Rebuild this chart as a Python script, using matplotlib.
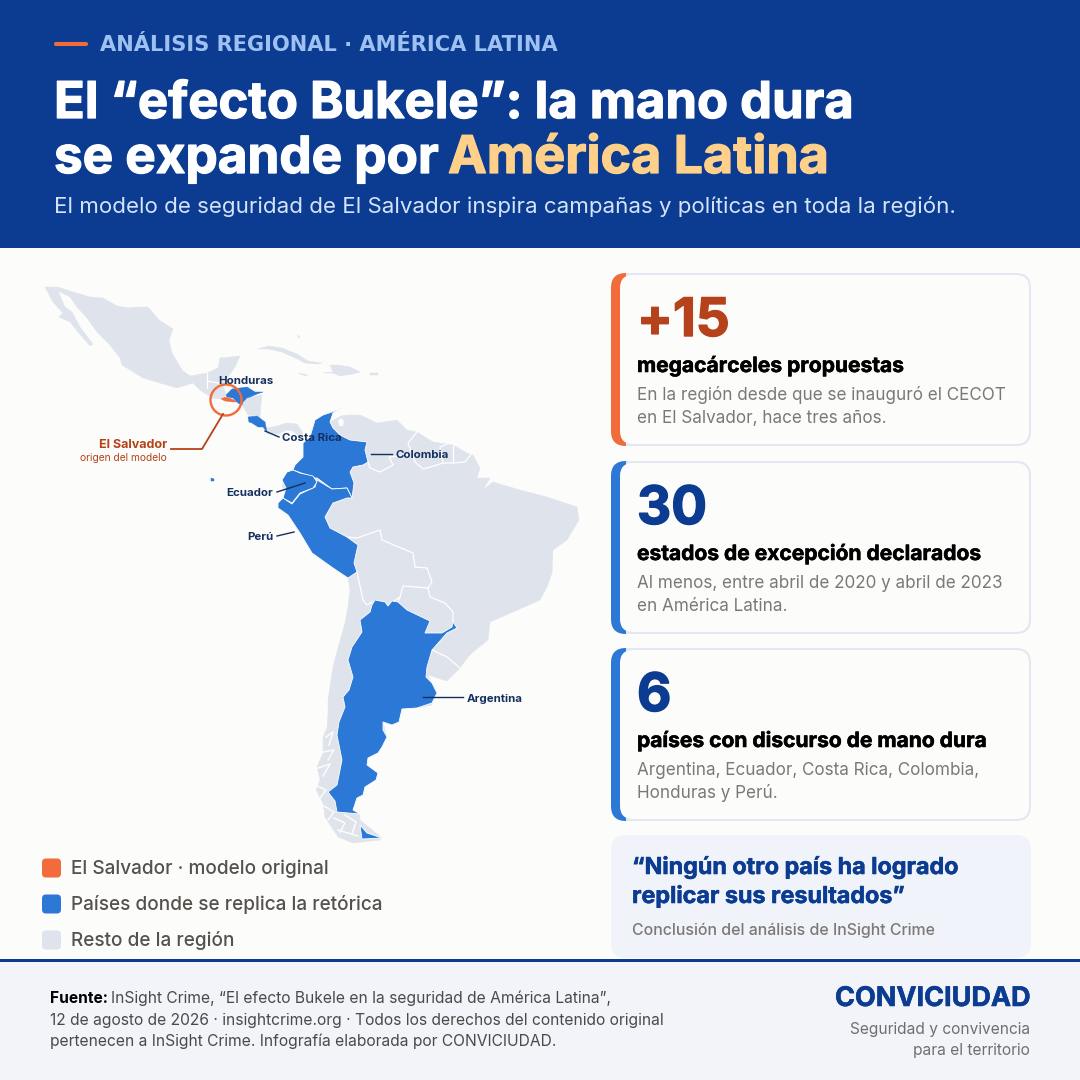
# infografia "efecto Bukele": everything drawn in pixel space of a 1080x1080 canvas
import matplotlib
matplotlib.use("Agg")
import matplotlib.pyplot as plt
import matplotlib.patheffects as pe
from matplotlib.patches import FancyBboxPatch, Polygon, Rectangle, Circle

plt.rcParams["font.family"] = ["Inter", "DejaVu Sans"]

NAVY = "#0B3C91"
BG = "#FCFCFA"
ORANGE = "#F26B3A"
RUST = "#B5421A"
BLUE = "#2B78D6"
LAND = "#DFE3EB"
INK_LABEL = "#14305F"

KICKER = "ANÁLISIS REGIONAL · AMÉRICA LATINA"
TITLE_1 = "El “efecto Bukele”: la mano dura"
TITLE_2A = "se expande por"
TITLE_2B = "América Latina"
SUBTITLE = "El modelo de seguridad de El Salvador inspira campañas y políticas en toda la región."

STAT_VALUES = ["+15", "30", "6"]
STAT_HEADS = ["megacárceles propuestas", "estados de excepción declarados", "países con discurso de mano dura"]
STAT_BODIES = [
    ["En la región desde que se inauguró el CECOT", "en El Salvador, hace tres años."],
    ["Al menos, entre abril de 2020 y abril de 2023", "en América Latina."],
    ["Argentina, Ecuador, Costa Rica, Colombia,", "Honduras y Perú."],
]
LEGEND_LABELS = ["El Salvador · modelo original", "Países donde se replica la retórica", "Resto de la región"]
QUOTE = ["“Ningún otro país ha logrado", "replicar sus resultados”"]
QUOTE_SRC = "Conclusión del análisis de InSight Crime"
FOOT_BOLD = "Fuente:"
FOOT = ["InSight Crime, “El efecto Bukele en la seguridad de América Latina”,",
        "12 de agosto de 2026 · insightcrime.org · Todos los derechos del contenido original",
        "pertenecen a InSight Crime. Infografía elaborada por CONVICIUDAD."]
BRAND = "CONVICIUDAD"
BRAND_SUB = ["Seguridad y convivencia", "para el territorio"]

# map outlines in image pixels
MEXICO = [(45, 287), (58, 287), (70, 291), (90, 297), (103, 298), (117, 306), (130, 308), (137, 307), (148, 307),
          (159, 320), (173, 329), (169, 340), (172, 353), (182, 370), (190, 376), (207, 373), (218, 368), (220, 358),
          (240, 356), (235, 367), (230, 374), (226, 379), (224, 388), (226, 395), (221, 399), (212, 398), (200, 390),
          (193, 383), (177, 388), (143, 378), (122, 365), (120, 358), (110, 345), (97, 332), (87, 318), (77, 307), (70, 297),
          (58, 291), (65, 307), (72, 312), (80, 327), (93, 344), (90, 346), (78, 332), (70, 322), (59, 317), (63, 313),
          (53, 302)]
NICARAGUA = [(243, 402), (250, 397), (262, 395), (261, 403), (260, 418), (265, 423), (257, 416), (248, 415), (242, 405)]
PANAMA = [(266, 428), (277, 426), (287, 423), (297, 424), (303, 433), (300, 437), (293, 431), (287, 430), (278, 434), (267, 434)]
CUBA = [(258, 349), (268, 346), (282, 348), (297, 354), (308, 361), (322, 363), (317, 364), (305, 363), (293, 357), (282, 352), (268, 349)]
HISPANIOLA = [(323, 373), (333, 372), (330, 365), (338, 365), (350, 367), (360, 372), (353, 374), (340, 376), (333, 373)]
JAMAICA = [(298, 373), (308, 375), (305, 376)]
PUERTO_RICO = [(370, 373), (378, 373), (378, 375), (370, 375)]
BAHAMAS = [(298, 335), (300, 337), (298, 338)]
HONDURAS = [(226, 395), (232, 389), (240, 388), (247, 387), (255, 392), (263, 392), (257, 394), (250, 397), (247, 398),
            (243, 402), (242, 405), (238, 403), (233, 398), (227, 397)]
EL_SALVADOR = [(221, 399), (225, 397), (232, 399), (237, 402), (233, 402), (225, 401)]
COSTA_RICA = [(248, 417), (257, 416), (265, 422), (267, 432), (263, 427), (258, 427), (252, 423), (249, 422)]
SOUTH_AMERICA = [(342, 408), (333, 413), (330, 422), (341, 416), (347, 415), (360, 415), (377, 423), (397, 420), (407, 430),
                 (417, 432), (433, 442), (453, 445), (467, 453), (473, 455), (480, 468), (477, 478), (473, 483), (467, 485),
                 (477, 478), (490, 478), (483, 490), (493, 482), (520, 490), (547, 497), (577, 507), (579, 520), (567, 540),
                 (553, 550), (552, 573), (547, 587), (540, 600), (513, 612), (490, 622), (488, 640), (473, 652), (468, 657),
                 (460, 668), (447, 681), (428, 675), (430, 680), (435, 692), (432, 705), (417, 708), (401, 709), (399, 722),
                 (392, 725), (383, 722), (387, 737), (382, 747), (368, 758), (367, 765), (378, 773), (376, 780), (365, 787),
                 (363, 795), (357, 798), (353, 810), (360, 815), (360, 820), (382, 838), (380, 840), (353, 843), (338, 837),
                 (325, 817), (323, 803), (316, 790), (320, 780), (317, 767), (323, 753), (323, 737), (327, 728), (328, 713),
                 (328, 700), (333, 667), (338, 648), (345, 623), (348, 607), (350, 590), (348, 578), (333, 568), (312, 553),
                 (300, 533), (288, 515), (278, 508), (278, 503), (283, 498), (286, 492), (282, 486), (287, 472), (293, 470),
                 (295, 465), (303, 457), (303, 443), (310, 437), (315, 420), (323, 415), (332, 412)]
COLOMBIA = [(342, 408), (333, 413), (330, 422), (333, 428), (340, 435), (350, 440), (367, 442), (365, 450), (368, 462),
            (363, 465), (353, 467), (350, 472), (354, 483), (352, 498), (347, 488), (332, 489), (317, 478), (315, 478),
            (293, 470), (295, 465), (303, 457), (303, 443), (310, 437), (315, 420), (323, 415), (332, 412)]
ECUADOR = [(282, 480), (287, 472), (293, 470), (300, 473), (313, 476), (317, 482), (313, 488), (300, 493), (292, 503),
           (283, 498), (286, 488)]
PERU = [(278, 503), (283, 498), (292, 504), (300, 494), (315, 487), (317, 480), (332, 489), (347, 488), (352, 498), (347, 498),
        (333, 503), (325, 517), (330, 528), (347, 537), (358, 545), (354, 563), (357, 572), (348, 578), (333, 568),
        (312, 553), (300, 533), (288, 515), (278, 508)]
ARGENTINA = [(372, 605), (375, 600), (385, 602), (388, 606), (392, 601), (398, 602), (407, 610), (430, 621), (425, 633),
             (442, 633), (452, 627), (453, 622), (457, 628), (447, 633), (432, 650), (427, 667), (426, 677), (432, 683),
             (437, 693), (432, 703), (417, 708), (402, 709), (399, 722), (392, 725), (383, 722), (383, 730), (387, 737),
             (382, 747), (378, 753), (368, 758), (367, 765), (378, 773), (376, 780), (365, 787), (363, 795), (357, 798),
             (353, 810), (360, 814), (337, 812), (335, 801), (328, 792), (337, 785), (342, 760), (337, 735), (339, 722),
             (345, 707), (343, 697), (349, 690), (353, 677), (348, 660), (352, 647), (362, 632), (360, 620), (370, 612)]
TIERRA_FUEGO = [(360, 825), (367, 833), (382, 838), (362, 839)]
GALAPAGOS = [(211, 478), (214, 479), (214, 481), (211, 481)]
MARACAIBO = [(338, 421), (341, 418), (344, 421), (343, 426), (339, 426)]

BORDERS = [
    [(207, 373), (207, 388)],
    [(207, 381), (218, 383), (226, 379)],
    [(368, 462), (370, 468), (380, 472), (393, 465), (389, 457), (408, 455)],
    [(417, 432), (408, 443), (415, 462), (423, 469), (437, 465), (443, 463), (453, 463), (465, 462), (472, 453)],
    [(443, 463), (440, 447), (447, 444)],
    [(453, 463), (453, 445)],
    [(347, 537), (357, 538), (380, 530), (382, 540), (413, 553), (415, 567), (427, 568), (432, 582), (428, 588),
     (403, 586), (400, 597), (393, 602)],
    [(357, 572), (363, 600), (367, 605), (372, 602)],
    [(400, 597), (398, 602)],
    [(428, 588), (430, 597), (445, 603), (453, 612), (453, 622)],
    [(432, 650), (447, 657), (460, 668)],
]
FJORDS = [
    [(326, 737), (333, 732), (329, 745)],
    [(323, 752), (334, 750), (328, 760)],
    [(318, 768), (330, 764), (323, 776)],
    [(317, 786), (326, 790), (320, 798)],
    [(324, 806), (334, 812), (328, 820)],
    [(334, 818), (345, 823), (340, 832)],
    [(345, 815), (356, 822), (352, 834)],
    [(338, 830), (358, 836)],
]

LABELS = [
    ("Honduras", 246, 380, "center", []),
    ("Costa Rica", 282, 437, "left", [(265, 431), (279, 437)]),
    ("Colombia", 395, 454, "left", [(371, 454), (392, 454)]),
    ("Ecuador", 273, 492, "right", [(277, 492), (305, 483)]),
    ("Perú", 273, 536, "right", [(277, 536), (294, 532)]),
    ("Argentina", 467, 698, "left", [(423, 697), (463, 697)]),
]
LEGEND_COLORS = [ORANGE, BLUE, LAND]
CARD_TOPS = [273, 461, 648]


def px(size):
    # sizes below are font heights in image pixels
    return size * 0.72


def txt(x, y, s, size, color, weight="normal", ha="left", zorder=6, heavy=0, **kw):
    t = ax.text(x, y, s, fontsize=px(size), color=color, fontweight=weight, ha=ha, va="baseline", zorder=zorder, **kw)
    if heavy:
        t.set_path_effects([pe.withStroke(linewidth=heavy, foreground=color)])
    return t


def rounded(x0, y0, x1, y1, r, **kw):
    p = FancyBboxPatch((x0 + r, y0 + r), x1 - x0 - 2 * r, y1 - y0 - 2 * r,
                       boxstyle=f"round,pad={r},rounding_size={r}", **kw)
    ax.add_patch(p)
    return p


fig = plt.figure(figsize=(10.8, 10.8), dpi=100, facecolor=BG)
ax = fig.add_axes([0, 0, 1, 1])
ax.set_xlim(0, 1080)
ax.set_ylim(1080, 0)
ax.axis("off")

# header
ax.add_patch(Rectangle((0, 0), 1080, 248, fc=NAVY, ec="none"))
ax.add_patch(FancyBboxPatch((55, 43), 32, 2, boxstyle="round,pad=0,rounding_size=1", fc=ORANGE, ec=ORANGE, lw=1.5))
txt(100, 51, KICKER, 21, "#9FC1F2", "bold", family="DejaVu Sans")
txt(54, 118, TITLE_1, 50.7, "white", "bold", heavy=0.9)
txt(54, 173, TITLE_2A, 51.2, "white", "bold", heavy=0.9)
txt(448, 173, TITLE_2B, 52, "#FFD08A", "bold", heavy=0.9)
txt(54, 213, SUBTITLE, 22.3, "#D5E3F8")

# map
for shape in [MEXICO, NICARAGUA, PANAMA, CUBA, HISPANIOLA, JAMAICA, PUERTO_RICO, BAHAMAS, SOUTH_AMERICA]:
    ax.add_patch(Polygon(shape, fc=LAND, ec=LAND, lw=0.3, zorder=2))
for line in BORDERS:
    ax.plot(*zip(*line), color="white", lw=0.9, zorder=2.5, solid_joinstyle="round")
for line in FJORDS:
    ax.plot(*zip(*line), color=BG, lw=1.1, zorder=2.5)
ax.add_patch(Polygon(MARACAIBO, fc=BG, ec="none", zorder=2.6))
for shape in [COLOMBIA, PERU, ECUADOR, ARGENTINA, TIERRA_FUEGO]:
    ax.add_patch(Polygon(shape, fc=BLUE, ec="white", lw=0.6, zorder=3, joinstyle="round"))
for shape in [HONDURAS, COSTA_RICA, GALAPAGOS]:
    ax.add_patch(Polygon(shape, fc=BLUE, ec=BLUE, lw=0.3, zorder=3))
ax.add_patch(Polygon(EL_SALVADOR, fc=ORANGE, ec=ORANGE, lw=0.3, zorder=3))

ax.add_patch(Circle((226, 400), 15.5, fc="none", ec=ORANGE, lw=1.7, zorder=5))
ax.plot([223, 202, 171], [414, 449, 449], color=RUST, lw=1.3, zorder=5)
txt(167, 448, "El Salvador", 12.6, RUST, "bold", ha="right")
txt(167, 461, "origen del modelo", 10.2, RUST, ha="right")

for name, x, y, ha, leader in LABELS:
    txt(x, y + 4, name, 11.5, INK_LABEL, "bold", ha=ha, zorder=7)
    if leader:
        ax.plot(*zip(*leader), color=INK_LABEL, lw=1, zorder=6)

# legend
for i, (label, col) in enumerate(zip(LEGEND_LABELS, LEGEND_COLORS)):
    yc = 868 + i * 36
    rounded(42, yc - 9.5, 61, yc + 9.5, 4, fc=col, ec="none", zorder=4)
    txt(71, yc + 6, label, 19, "#55524E", "medium")

# stat cards: css-like border, thick coloured left side
for i, top in enumerate(CARD_TOPS):
    bottom = top + 173
    bar = ORANGE if i == 0 else BLUE
    numc = RUST if i == 0 else NAVY
    rounded(611, top, 1031, bottom, 15, fc="#E3E7F1", ec="none", zorder=3)
    side = rounded(611, top, 1031, bottom, 15, fc=bar, ec="none", zorder=3.1)
    side.set_clip_path(Rectangle((611, top), 15, bottom - top, transform=ax.transData))
    rounded(620, top + 2, 1029, bottom - 2, 13, fc=BG, ec="none", zorder=3.2)
    txt(637, top + 63, STAT_VALUES[i], 53, numc, "bold", heavy=1.0)
    txt(637, top + 99, STAT_HEADS[i], 21, "black", "bold", heavy=0.4)
    txt(637, top + 127, STAT_BODIES[i][0], 17.1, "#7C7975")
    txt(637, top + 150, STAT_BODIES[i][1], 17.1, "#7C7975")

# quote
rounded(611, 835, 1031, 958, 15, fc="#F0F3F9", ec="none", zorder=3)
txt(632, 874, QUOTE[0], 23.3, NAVY, "bold", heavy=0.4)
txt(632, 903, QUOTE[1], 23.3, NAVY, "bold", heavy=0.4)
txt(632, 935, QUOTE_SRC, 15.9, "#7C7975", "medium")

# footer
ax.add_patch(Rectangle((0, 961), 1080, 119, fc="#F2F4F9", ec="none", zorder=3))
ax.add_patch(Rectangle((0, 958.5), 1080, 3, fc=NAVY, ec="none", zorder=3.5))
txt(50, 1003, FOOT_BOLD, 15.6, "black", "bold")
txt(111, 1003, FOOT[0], 15.6, "#4A4A4A")
txt(50, 1025, FOOT[1], 15.6, "#4A4A4A")
txt(50, 1046, FOOT[2], 15.6, "#4A4A4A")
txt(1030, 1006, BRAND, 27, NAVY, "bold", ha="right", heavy=0.4)
txt(1030, 1034, BRAND_SUB[0], 15.5, "#6F6F6F", ha="right")
txt(1030, 1055, BRAND_SUB[1], 15.5, "#6F6F6F", ha="right")

fig.savefig("out.png", dpi=100, facecolor=BG)
